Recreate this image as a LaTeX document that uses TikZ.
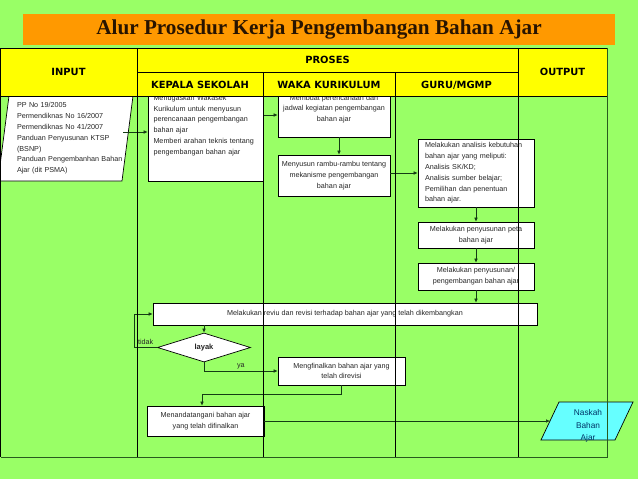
\documentclass[tikz,border=0pt]{standalone}
\usepackage{fontspec}
\setmainfont{Liberation Sans}
\newfontfamily\titlefont{Liberation Serif}
\newfontfamily\headfont{DejaVu Sans}
\usetikzlibrary{shapes.geometric,arrows.meta}
\definecolor{bggreen}{RGB}{153,255,102}
\definecolor{titleorange}{RGB}{255,153,0}
\definecolor{headyellow}{RGB}{255,255,0}
\definecolor{outcyan}{RGB}{102,255,255}
\definecolor{outnavy}{RGB}{0,51,102}
\definecolor{tabedge}{RGB}{40,90,30}
\definecolor{linkgreen}{RGB}{20,60,20}
\begin{document}
\begin{tikzpicture}[x=1pt,y=-1pt,
    box/.style={draw,fill=white,line width=0.7pt,align=center,inner sep=1pt,
        font=\fontsize{7.2}{10.8}\selectfont,text=black!85},
    lbl/.style={inner sep=1pt,font=\fontsize{7.2}{8.6}\selectfont,text=black!85},
    head/.style={font=\headfont\bfseries\fontsize{9.9}{11}\selectfont,text height=7.2pt,text depth=0pt},
    grid/.style={line width=0.9pt},
    arr/.style={-{Latex[length=4pt,width=3.6pt]},line width=0.6pt,draw=linkgreen}
]
\useasboundingbox[fill=bggreen] (0,0) rectangle (638,479);
\filldraw[fill=white,line width=0.7pt] (9,96) -- (133,96) -- (122,181) -- (-2,181) -- cycle;
\node[lbl,text width=106pt,align=left,inner sep=0pt,font=\fontsize{7.2}{10.8}\selectfont] (input) at (70,138.5)
    {PP No 19/2005\\Permendiknas No 16/2007\\Permendiknas No 41/2007\\Panduan Penyusunan KTSP\\(BSNP)\\Panduan Pengembanhan Bahan\\Ajar (dit PSMA)};
\node[box,align=left,text width=104pt,minimum width=115pt,minimum height=111pt] (kepala) at (205.5,125.5)
    {Menugaskan Wakasek\\Kurikulum untuk menyusun\\perencanaan pengembangan\\bahan ajar\\Memberi arahan teknis tentang\\pengembangan bahan ajar};
\node[box,minimum width=112pt,minimum height=56pt] (waka1) at (334,109)
    {Membuat perencanaan dan\\jadwal kegiatan pengembangan\\bahan ajar};
\node[box,minimum width=112pt,minimum height=41pt] (waka2) at (334,175.5)
    {Menyusun rambu-rambu tentang\\mekanisme pengembangan\\bahan ajar};
\node[box,align=left,text width=102pt,minimum width=116pt,minimum height=68pt] (guru1) at (476,173)
    {Melakukan analisis kebutuhan\\bahan ajar yang meliputi:\\Analisis SK/KD;\\Analisis sumber belajar;\\Pemilihan dan penentuan\\bahan ajar.};
\node[box,minimum width=116pt,minimum height=26pt] (guru2) at (476,235)
    {Melakukan penyusunan peta\\bahan ajar};
\node[box,minimum width=116pt,minimum height=27pt] (guru3) at (476,276.5)
    {Melakukan penyusunan/\\pengembangan bahan ajar};
\node[box,minimum width=384pt,minimum height=22pt] (review) at (345,314)
    {Melakukan reviu dan revisi terhadap bahan ajar yang telah dikembangkan};
\node[box,diamond,aspect=3.2,inner sep=0pt,minimum width=93pt,minimum height=29pt,
    font=\bfseries\fontsize{7.5}{9}\selectfont] (layak) at (204,347.5) {layak};
\node[box,minimum width=127pt,minimum height=28pt] (final) at (341.5,371)
    {Mengfinalkan bahan ajar yang\\telah direvisi};
\node[box,minimum width=117pt,minimum height=30pt] (sign) at (205.5,421)
    {Menandatangani bahan ajar\\yang telah difinalkan};
\filldraw[fill=outcyan,line width=0.7pt] (559,402) -- (633,402) -- (615,440) -- (541,440) -- cycle;
\coordinate (naskahin) at (550,421);
\node[align=center,inner sep=0pt,text=outnavy,font=\fontsize{8.3}{12.5}\selectfont] (naskah) at (588,426)
    {Naskah\\Bahan\\Ajar};
\draw[arr] ([yshift=6.5pt]input.east) -- ([yshift=6.5pt]input.east -| kepala.west);
\draw[arr] ([yshift=10.5pt]kepala.east) -- ([yshift=-6pt]waka1.west);
\draw[arr] ([xshift=5pt]waka1.south) -- ([xshift=5pt]waka2.north);
\draw[arr] (waka2.east |- guru1.west) -- (guru1.west);
\draw[arr] (guru1.south) -- (guru2.north);
\draw[arr] (guru2.south) -- (guru3.north);
\draw[arr] (guru3.south) -- (guru3.south |- review.north);
\draw[arr] (layak |- review.south) -- (layak);
\draw[arr] (layak.west) -- node[lbl,above=1.5pt] (tidak) {tidak} ++(-23,0) |- (review.west);
\draw[arr] (layak.south) |- node[lbl,pos=0.75,above=0.5pt] (ya) {ya} (final.west);
\draw[arr] (final.south) -- ++(0,9) -| ([xshift=-3.5pt]sign.north);
\draw[arr] (sign.east) -- (naskahin);
\fill[headyellow] (0,48) rectangle (607,96);
\draw[grid] (137,48) -- (137,457);
\draw[grid] (518,48) -- (518,457);
\draw[grid] (263,72) -- (263,457);
\draw[grid] (395,72) -- (395,457);
\draw[grid] (137,72) -- (518,72);
\draw[grid] (0.5,96) -- (607,96);
\draw[grid] (0.5,457) -- (0.5,48) -- (607,48);
\draw[grid,draw=tabedge] (607,48) -- (607,457) -- (0.5,457);
\node[head] (hinput) at (68.5,72) {INPUT};
\node[head] (hproses) at (327.5,60) {PROSES};
\node[head] (houtput) at (562.5,72) {OUTPUT};
\node[head] (hkepala) at (200,84.5) {KEPALA SEKOLAH};
\node[head] (hwaka) at (329,84.5) {WAKA KURIKULUM};
\node[head] (hguru) at (456.5,84.5) {GURU/MGMP};
\node[fill=titleorange,minimum width=592pt,minimum height=31pt,text={rgb,255:red,40;green,20;blue,0},
    font=\titlefont\bfseries\fontsize{21.2}{24}\selectfont] (title) at (319,29)
    {Alur Prosedur Kerja Pengembangan Bahan Ajar};
\end{tikzpicture}
\end{document}
